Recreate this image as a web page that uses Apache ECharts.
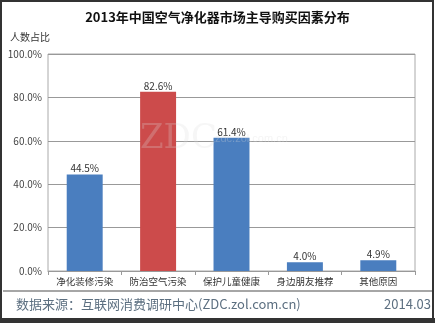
<!DOCTYPE html>
<html><head><meta charset="utf-8">
<script src="https://cdn.jsdelivr.net/npm/echarts@6/dist/echarts.min.js"></script>
<style>html,body{margin:0;padding:0;background:#fff}#c{width:435px;height:323px}</style>
</head><body><div id="c"></div>
<script>
const categories = ['净化装修污染','防治空气污染','保护儿童健康','身边朋友推荐','其他原因'];
const values = [44.5, 82.6, 61.4, 4.0, 4.9];
const highlightIndex = 1;
const yTicks = [0, 20, 40, 60, 80, 100];
const titleText = '2013年中国空气净化器市场主导购买因素分布';
const sourceText = '数据来源：互联网消费调研中心(ZDC.zol.com.cn)';
const dateText = '2014.03';
const FONT = '"Noto Sans CJK SC", sans-serif';
const chart = echarts.init(document.getElementById('c'), null, {renderer:'canvas'});
chart.setOption({
  animation:false,
  textStyle:{fontFamily:FONT},
  title:{text:titleText,left:'center',top:6,textStyle:{fontSize:13,fontWeight:'bold',color:'#111',fontFamily:FONT}},
  grid:{left:48,right:20,top:54,bottom:52,show:true,borderColor:'#aaa',borderWidth:1},
  xAxis:{type:'category',data:categories,
    axisLine:{lineStyle:{color:'#999'}},
    axisTick:{show:true,length:4,lineStyle:{color:'#999'}},
    axisLabel:{interval:0,fontSize:9.5,color:'#333',margin:6,fontFamily:FONT}},
  yAxis:{type:'value',min:yTicks[0],max:yTicks[yTicks.length-1],interval:20,
    name:'人数占比',nameLocation:'end',nameGap:12,
    nameTextStyle:{fontSize:10,color:'#333',align:'right',padding:[0,-2,0,0]},
    axisLine:{show:false},axisTick:{show:false},
    splitLine:{lineStyle:{color:'#999'}},
    axisLabel:{fontSize:10,color:'#444',margin:6,formatter:v=>v.toFixed(1)+'%'}},
  series:[{type:'bar',barWidth:'49%',
    data:values.map((v,i)=>({value:v,itemStyle:{color:i===highlightIndex?'#cc4b4b':'#4a7ebf'}})),
    label:{show:true,position:'top',distance:1,fontSize:10,color:'#333',formatter:p=>p.value.toFixed(1)+'%'}}],
  graphic:[
    {type:'text',left:140,top:122,silent:true,z:100,style:{text:'ZDC',fontSize:34,fontFamily:'DejaVu Serif',fill:'rgba(220,220,220,0.25)'}},
    {type:'text',left:215,top:133,silent:true,z:100,style:{text:'zdc.zol.com.cn',fontSize:11,fill:'rgba(220,220,220,0.3)'}},
    {type:'line',shape:{x1:3,y1:291,x2:432,y2:291},style:{stroke:'#888',lineWidth:1.5}},
    {type:'text',left:16,top:298,style:{text:sourceText,fontSize:13,fill:'#5c6f80',fontFamily:FONT}},
    {type:'text',right:4,top:298,style:{text:dateText,fontSize:13,fill:'#5c6f80',fontFamily:FONT}},
    {type:'rect',shape:{x:1,y:1,width:432,height:318},style:{fill:'none',stroke:'#333',lineWidth:2}},
    {type:'rect',shape:{x:0,y:318,width:435,height:5},style:{fill:'#333'}}
  ]
});
</script></body></html>
